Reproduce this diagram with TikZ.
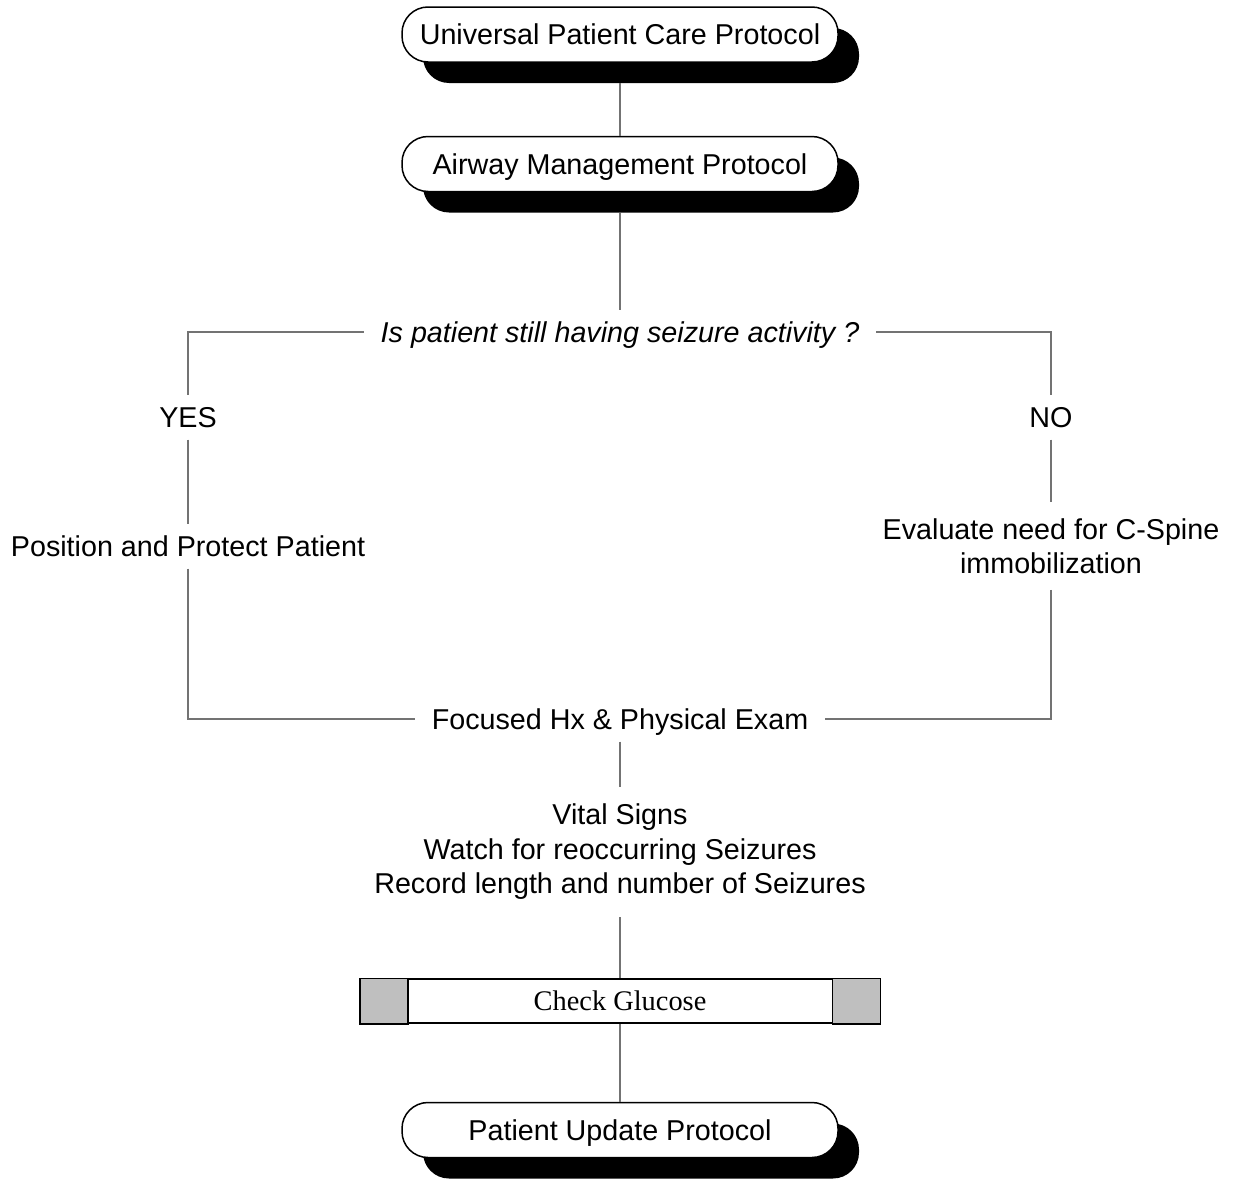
\documentclass[tikz,border=0pt]{standalone}
\usepackage{fontspec}
\setmainfont{Liberation Sans}
\newfontfamily\seriffont{Liberation Serif}
\begin{document}
\begin{tikzpicture}[x=1pt,y=-1pt,
  txt/.style={font=\fontsize{28.7}{34.5}\selectfont, text height=20.6pt, text depth=0pt,
    inner xsep=17pt, inner ysep=12pt},
  multi/.style={font=\fontsize{28.7}{34.5}\selectfont, align=center, inner xsep=17pt},
  pill/.style={txt, rectangle, rounded corners=26pt, minimum width=436pt, minimum height=55pt,
    inner sep=0pt, draw=black, line width=1.5pt, fill=white},
  pillshadow/.style={rectangle, rounded corners=26pt, minimum width=436pt, minimum height=55pt,
    inner sep=0pt, fill=black},
  conn/.style={draw=black!55, line width=1.4pt},
  bar/.style={rectangle, minimum width=519pt, minimum height=44pt, inner sep=0pt,
    draw=black, line width=1.5pt, fill=white, font=\seriffont\fontsize{28.4}{34}\selectfont},
  barend/.style={draw=black, line width=1.5pt, fill=black!25}]
\clip (0,0) rectangle (1233,1178);
\fill[white] (0,0) rectangle (1233,1178);

% terminal boxes with drop shadows
\node[pillshadow] (s1) at (641,55.5) {};
\node[pill] (b1) at (620,34.5) {Universal Patient Care Protocol};
\node[pillshadow] (s2) at (641,185) {};
\node[pill] (b2) at (620,164) {Airway Management Protocol};
\node[pillshadow] (s3) at (641,1151) {};
\node[pill] (b3) at (620,1130) {Patient Update Protocol};

% decision and branch texts
\node[txt] (dec) at (620,332) {\itshape Is patient still having seizure activity ?};
\node[txt] (yes) at (188,417) {YES};
\node[txt] (pos) at (188,546) {Position and Protect Patient};
\node[txt] (no) at (1051,417) {NO};
\node[multi, inner ysep=16pt] (eval) at (1051,546) {Evaluate need for C-Spine\\immobilization};
\node[txt] (foc) at (620,719) {Focused Hx \& Physical Exam};
\node[multi, inner ysep=17pt] (vit) at (620,852) {Vital Signs\\Watch for reoccurring Seizures\\Record length and number of Seizures};

% procedure bar
\node[bar] (glu) at (620,1001) {Check Glucose};
\draw[barend] (glu.north west) rectangle ([xshift=48pt]glu.south west);
\draw[barend] (glu.north east) rectangle ([xshift=-48pt]glu.south east);

% connectors
\draw[conn] (b1 |- s1.south) -- (b2.north);
\draw[conn] (b2 |- s2.south) -- (dec.north);
\draw[conn] (dec.west) -| (yes.north);
\draw[conn] (yes.south) -- (pos.north);
\draw[conn] (pos.south) |- (foc.west);
\draw[conn] (dec.east) -| (no.north);
\draw[conn] (no.south) -- (eval.north);
\draw[conn] (eval.south) |- (foc.east);
\draw[conn] (foc.south) -- (vit.north);
\draw[conn] (vit.south) -- (glu.north);
\draw[conn] (glu.south) -- (b3.north);
\end{tikzpicture}
\end{document}
